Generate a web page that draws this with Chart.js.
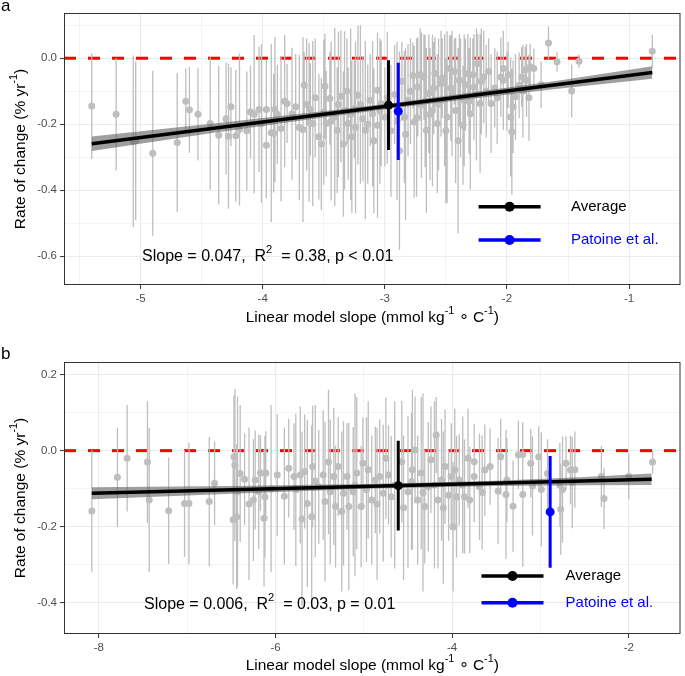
<!DOCTYPE html>
<html>
<head>
<meta charset="utf-8">
<script src="https://cdn.jsdelivr.net/npm/chart.js@4.4.1/dist/chart.umd.min.js"></script>
<style>
    html, body { margin: 0; padding: 0; background: #fff; }
    .panel { position: absolute; left: 0; width: 685px; height: 338px; }
    #panelA { top: 0; }
    #panelB { top: 338px; }
</style>
</head>
<body>
<div class="panel" id="panelA"><canvas id="chartA"></canvas></div>
<div class="panel" id="panelB"><canvas id="chartB"></canvas></div>
<script>
// ---- panel a : sites (slope, rate, half error bar) ----
const slopeA = [-5.40, -5.20, -5.06, -5.04, -4.90, -4.70, -4.63, -4.60, -4.53, -4.43,
    -4.36, -4.30, -4.28, -4.26, -4.22, -4.19, -4.13, -4.10, -4.07, -4.03,
    -4.01, -3.97, -3.97, -3.93, -3.91, -3.90, -3.88, -3.85, -3.82, -3.80,
    -3.76, -3.73, -3.70, -3.67, -3.66, -3.64, -3.62, -3.61, -3.59, -3.57,
    -3.54, -3.52, -3.50, -3.49, -3.48, -3.45, -3.44, -3.41, -3.39, -3.38,
    -3.36, -3.34, -3.33, -3.31, -3.30, -3.28, -3.27, -3.25, -3.24, -3.22,
    -3.20, -3.18, -3.16, -3.14, -3.12, -3.10, -3.09, -3.06, -3.06, -3.04,
    -3.03, -3.00, -2.98, -2.95, -2.92, -2.90, -2.88, -2.86, -2.84, -2.83,
    -2.81, -2.79, -2.77, -2.76, -2.74, -2.73, -2.71, -2.70, -2.68, -2.67,
    -2.66, -2.64, -2.63, -2.61, -2.60, -2.59, -2.57, -2.56, -2.54, -2.53,
    -2.51, -2.50, -2.49, -2.47, -2.46, -2.45, -2.43, -2.42, -2.40, -2.39,
    -2.38, -2.36, -2.35, -2.34, -2.32, -2.31, -2.30, -2.28, -2.27, -2.25,
    -2.24, -2.22, -2.21, -2.19, -2.17, -2.15, -2.13, -2.10, -2.08, -2.05,
    -2.03, -2.03, -2.00, -1.99, -1.97, -1.96, -1.95, -1.93, -1.90, -1.88,
    -1.87, -1.85, -1.84, -1.82, -1.81, -1.78, -1.72, -1.66, -1.59, -1.47,
    -1.41, -0.81];
const rateA = [-0.145, -0.170, -0.252, -0.250, -0.288, -0.255, -0.130, -0.156, -0.170, -0.198,
    -0.233, -0.183, -0.236, -0.147, -0.235, -0.216, -0.220, -0.163, -0.170, -0.155,
    -0.198, -0.155, -0.264, -0.226, -0.227, -0.155, -0.170, -0.213, -0.130, -0.137,
    -0.168, -0.147, -0.210, -0.216, -0.082, -0.140, -0.195, -0.155, -0.198, -0.120,
    -0.238, -0.260, -0.163, -0.085, -0.198, -0.122, -0.190, -0.178, -0.218, -0.140,
    -0.115, -0.260, -0.158, -0.100, -0.198, -0.170, -0.238, -0.152, -0.210, -0.112,
    -0.140, -0.183, -0.218, -0.200, -0.127, -0.168, -0.250, -0.097, -0.203, -0.160,
    -0.137, -0.178, -0.120, -0.220, -0.110, -0.190, -0.280, -0.070, -0.178, -0.230,
    -0.127, -0.100, -0.052, -0.193, -0.180, -0.087, -0.050, -0.142, -0.057, -0.130,
    -0.218, -0.107, -0.170, -0.158, -0.090, -0.046, -0.198, -0.140, -0.077, -0.060,
    -0.127, -0.220, -0.178, -0.031, -0.090, -0.107, -0.040, -0.158, -0.250, -0.067,
    -0.120, -0.203, -0.127, -0.080, -0.046, -0.130, -0.168, -0.050, -0.087, -0.110,
    -0.016, -0.137, -0.070, -0.057, -0.100, -0.040, -0.137, -0.090, -0.120, -0.057,
    -0.031, -0.067, -0.100, -0.050, -0.178, -0.223, -0.147, -0.117, -0.082, -0.057,
    -0.100, -0.036, -0.067, -0.120, -0.026, -0.031, -0.080, 0.046, -0.011, -0.099,
    -0.009, 0.021];
const errA = [0.16, 0.17, 0.26, 0.24, 0.25, 0.21, 0.10, 0.13, 0.14, 0.20,
    0.21, 0.17, 0.22, 0.12, 0.20, 0.23, 0.18, 0.14, 0.24, 0.19,
    0.24, 0.15, 0.16, 0.27, 0.18, 0.22, 0.15, 0.22, 0.20, 0.12,
    0.20, 0.16, 0.22, 0.28, 0.10, 0.20, 0.24, 0.14, 0.25, 0.18,
    0.19, 0.20, 0.22, 0.16, 0.16, 0.14, 0.24, 0.27, 0.19, 0.22,
    0.20, 0.22, 0.24, 0.16, 0.17, 0.26, 0.23, 0.15, 0.26, 0.21,
    0.24, 0.19, 0.27, 0.18, 0.14, 0.22, 0.22, 0.12, 0.28, 0.22,
    0.19, 0.15, 0.20, 0.20, 0.15, 0.24, 0.30, 0.12, 0.20, 0.26,
    0.17, 0.16, 0.10, 0.23, 0.24, 0.15, 0.14, 0.22, 0.13, 0.20,
    0.25, 0.18, 0.20, 0.23, 0.14, 0.11, 0.21, 0.20, 0.16, 0.12,
    0.20, 0.22, 0.26, 0.10, 0.16, 0.19, 0.10, 0.22, 0.28, 0.14,
    0.18, 0.18, 0.20, 0.14, 0.12, 0.16, 0.23, 0.11, 0.16, 0.20,
    0.09, 0.21, 0.16, 0.14, 0.14, 0.10, 0.15, 0.12, 0.14, 0.12,
    0.09, 0.15, 0.12, 0.10, 0.18, 0.19, 0.14, 0.13, 0.10, 0.09,
    0.14, 0.07, 0.11, 0.13, 0.07, 0.06, 0.07, 0.05, 0.03, 0.08,
    0.02, 0.05];

const fitXA = [-5.40, -0.81];
const fitYA = [-0.259, -0.043];
const bandXA = [-5.40, -4.40, -3.40, -2.90, -2.40, -1.60, -0.81];
const bandLoA = [-0.281, -0.226, -0.174, -0.150, -0.127, -0.093, -0.062];
const bandHiA = [-0.237, -0.198, -0.156, -0.134, -0.109, -0.069, -0.024];

const avgA = { x: [-2.97], y: [-0.142], err: [0.136] };
const patoineA = { x: [-2.89], y: [-0.161], err: [0.147] };

const xMajorA = [-5, -4, -3, -2, -1];
const xMinorA = [-5.5, -4.5, -3.5, -2.5, -1.5];
const yMajorA = [-0.6, -0.4, -0.2, 0.0];
const yMinorA = [-0.5, -0.3, -0.1, 0.1];

// ---- panel b ----
const slopeB = [-8.08, -7.79, -7.68, -7.45, -7.43, -7.21, -7.03, -6.98, -6.75, -6.69,
    -6.48, -6.47, -6.46, -6.44, -6.43, -6.35, -6.25, -6.23, -6.19, -6.17,
    -6.13, -6.12, -6.11, -5.98, -5.85, -5.79, -5.77, -5.72, -5.67, -5.64,
    -5.59, -5.58, -5.51, -5.46, -5.44, -5.38, -5.34, -5.32, -5.29, -5.23,
    -5.19, -5.17, -5.12, -5.08, -5.03, -5.01, -4.97, -4.91, -4.87, -4.82,
    -4.78, -4.72, -4.69, -4.57, -4.50, -4.46, -4.42, -4.39, -4.35, -4.31,
    -4.27, -4.24, -4.18, -4.16, -4.12, -4.08, -4.04, -4.01, -3.99, -3.95,
    -3.92, -3.86, -3.82, -3.75, -3.75, -3.69, -3.63, -3.57, -3.48, -3.45,
    -3.39, -3.38, -3.31, -3.25, -3.20, -3.20, -3.11, -3.09, -3.02, -2.99,
    -2.92, -2.78, -2.77, -2.75, -2.71, -2.66, -2.64, -2.61, -2.31, -2.28,
    -2.00, -1.73,
    -6.40, -6.30, -6.05, -5.90, -5.70, -5.55, -5.40, -5.25, -5.10, -4.95,
    -4.85, -4.75, -4.65, -4.55, -4.45, -4.33, -4.20, -4.10, -3.97, -3.88,
    -3.80, -3.66];
const rateB = [-0.159, -0.070, -0.020, -0.030, -0.130, -0.158, -0.139, -0.139, -0.134, -0.086,
    -0.182, -0.016, -0.038, -0.174, -0.108, -0.075, -0.130, -0.077, -0.108, -0.059,
    -0.178, -0.121, -0.059, -0.064, -0.046, -0.068, -0.103, -0.064, -0.055, -0.139,
    -0.174, -0.042, -0.095, -0.064, -0.134, -0.108, -0.068, -0.147, -0.042, -0.112,
    -0.068, -0.147, -0.108, -0.059, -0.147, -0.033, -0.103, -0.130, -0.077, -0.068,
    -0.112, -0.064, -0.121, -0.029, -0.108, -0.081, 0.002, -0.130, -0.059, -0.147,
    -0.095, -0.024, 0.041, -0.130, -0.077, -0.042, -0.117, -0.068, -0.200, -0.121,
    -0.077, -0.121, -0.020, -0.068, -0.029, -0.095, -0.051, -0.042, -0.106, -0.016,
    -0.115, -0.077, -0.146, -0.011, -0.115, -0.010, -0.033, -0.093, -0.016, -0.102,
    -0.060, -0.090, -0.154, -0.102, -0.033, -0.051, -0.084, -0.050, -0.068, -0.126,
    -0.068, -0.030,
    -0.060, -0.140, -0.100, -0.120, -0.180, -0.080, -0.030, -0.160, -0.090, -0.050,
    -0.140, -0.020, -0.090, -0.150, -0.050, -0.110, -0.090, -0.150, -0.050, -0.090,
    -0.130, -0.110];
const errB = [0.16, 0.13, 0.14, 0.16, 0.19, 0.14, 0.14, 0.16, 0.17, 0.11,
    0.17, 0.16, 0.20, 0.19, 0.25, 0.12, 0.16, 0.13, 0.15, 0.10,
    0.18, 0.16, 0.11, 0.16, 0.13, 0.14, 0.20, 0.18, 0.15, 0.22,
    0.24, 0.16, 0.15, 0.17, 0.21, 0.19, 0.18, 0.16, 0.13, 0.19,
    0.14, 0.22, 0.17, 0.20, 0.16, 0.12, 0.19, 0.17, 0.14, 0.15,
    0.18, 0.13, 0.16, 0.16, 0.20, 0.18, 0.14, 0.17, 0.20, 0.15,
    0.17, 0.14, 0.10, 0.18, 0.16, 0.15, 0.12, 0.14, 0.17, 0.16,
    0.12, 0.15, 0.13, 0.12, 0.10, 0.14, 0.12, 0.10, 0.14, 0.10,
    0.17, 0.11, 0.12, 0.09, 0.19, 0.08, 0.09, 0.13, 0.08, 0.15,
    0.09, 0.11, 0.12, 0.14, 0.07, 0.09, 0.12, 0.10, 0.08, 0.08,
    0.06, 0.03,
    0.18, 0.20, 0.22, 0.18, 0.23, 0.20, 0.19, 0.21, 0.24, 0.18,
    0.20, 0.16, 0.22, 0.19, 0.21, 0.26, 0.22, 0.20, 0.16, 0.18,
    0.14, 0.15];

const fitXB = [-8.08, -1.74];
const fitYB = [-0.112, -0.075];
const bandXB = [-8.08, -6.50, -5.00, -4.60, -3.50, -2.50, -1.74];
const bandLoB = [-0.128, -0.113, -0.100, -0.098, -0.093, -0.091, -0.090];
const bandHiB = [-0.096, -0.093, -0.088, -0.086, -0.079, -0.069, -0.060];

const avgB = { x: [-4.61], y: [-0.092], err: [0.118] };
const patoineB = { x: [-2.89], y: [-0.161], err: [0.147] };

const xMajorB = [-8, -6, -4, -2];
const xMinorB = [-7, -5, -3];
const yMajorB = [-0.4, -0.2, 0.0, 0.2];
const yMinorB = [-0.3, -0.1, 0.1];

const legendLabels = ['Average', 'Patoine et al.'];
const FONT = '"Liberation Sans", Arial, sans-serif';
const GREY = '#bebebe';

function points(xs, ys) {
    return xs.map((x, i) => ({ x: x, y: ys[i] }));
}

// vertical segments separated by gaps, so one line dataset draws every error bar
function errorSegments(xs, ys, es) {
    const out = [];
    xs.forEach((x, i) => {
        out.push({ x: x, y: ys[i] - es[i] }, { x: x, y: ys[i] + es[i] }, { x: x, y: null });
    });
    return out;
}

function drawRich(ctx, parts, x, y, size, align, color) {
    const base = size + 'px ' + FONT;
    const small = (size * 0.7).toFixed(1) + 'px ' + FONT;
    let w = 0;
    parts.forEach(p => { ctx.font = p[1] ? small : base; w += ctx.measureText(p[0]).width; });
    let cx = align === 'center' ? x - w / 2 : x;
    ctx.textAlign = 'left';
    ctx.textBaseline = 'middle';
    ctx.fillStyle = color;
    parts.forEach(p => {
        ctx.font = p[1] ? small : base;
        ctx.fillText(p[0], cx, p[1] ? y - size * 0.42 : y);
        cx += ctx.measureText(p[0]).width;
    });
}

const decorPlugin = {
    id: 'decor',
    afterDraw(chart, args, o) {
        const ctx = chart.ctx;
        const a = chart.chartArea;
        ctx.save();
        ctx.strokeStyle = '#333333';
        ctx.lineWidth = 1;
        ctx.strokeRect(a.left + 0.5, a.top + 0.5, a.right - a.left - 1, a.bottom - a.top - 1);

        ctx.fillStyle = '#000';
        ctx.font = '17px ' + FONT;
        ctx.textAlign = 'left';
        ctx.textBaseline = 'alphabetic';
        ctx.fillText(o.label, 1, o.labelY);

        drawRich(ctx, [['Linear model slope (mmol kg', 0], ['-1', 1], [' \u2218 C', 0], ['-1', 1], [')', 0]],
            (a.left + a.right) / 2, o.xTitleY, 15.5, 'center', '#000');
        ctx.save();
        ctx.translate(21, (a.top + a.bottom) / 2);
        ctx.rotate(-Math.PI / 2);
        drawRich(ctx, [['Rate of change (% yr', 0], ['-1', 1], [')', 0]], 0, 0, 15.5, 'center', '#000');
        ctx.restore();

        drawRich(ctx, o.annot, o.annotX, o.annotY, 16, 'left', '#000');

        const colors = ['#000000', '#0000ff'];
        o.legendY.forEach((ly, i) => {
            ctx.strokeStyle = colors[i];
            ctx.lineWidth = 3.5;
            ctx.beginPath();
            ctx.moveTo(o.legendX - 31, ly);
            ctx.lineTo(o.legendX + 31, ly);
            ctx.stroke();
            ctx.fillStyle = colors[i];
            ctx.beginPath();
            ctx.arc(o.legendX, ly, 5, 0, Math.PI * 2);
            ctx.fill();
            drawRich(ctx, [[legendLabels[i], 0]], o.legendTextX, ly, 15, 'left', colors[i]);
        });
        ctx.restore();
    }
};

function axis(min, max, major, minor, fmt, extra) {
    const all = major.concat(minor).sort((p, q) => p - q);
    return Object.assign({
        type: 'linear',
        min: min,
        max: max,
        afterBuildTicks: s => { s.ticks = all.map(v => ({ value: v })); },
        ticks: {
            autoSkip: false,
            maxRotation: 0,
            color: '#4d4d4d',
            font: { family: FONT, size: 11.5 },
            callback: v => major.includes(v) ? fmt(v) : ''
        },
        grid: {
            color: '#ebebeb',
            lineWidth: c => major.includes(c.tick.value) ? 1.1 : 0.55,
            tickColor: c => major.includes(c.tick.value) ? '#333333' : 'rgba(0,0,0,0)',
            tickWidth: 1,
            tickLength: 4
        },
        border: { display: false }
    }, extra);
}

function makePanel(id, p) {
    const datasets = [
        { type: 'line', data: [{ x: p.xRange[0], y: 0 }, { x: p.xRange[1], y: 0 }],
          borderColor: '#ff0000', borderWidth: 3, borderDash: [12, 12], pointRadius: 0, order: 9 },
        { type: 'line', data: errorSegments(p.slope, p.rate, p.err), spanGaps: false,
          borderColor: GREY, borderWidth: 1.3, pointRadius: 0, order: 8 },
        { type: 'scatter', data: points(p.slope, p.rate), backgroundColor: GREY,
          borderWidth: 0, pointRadius: 3.5, order: 7 },
        { type: 'line', data: points(p.bandX, p.bandLo), borderWidth: 0, pointRadius: 0, order: 6 },
        { type: 'line', data: points(p.bandX, p.bandHi), borderWidth: 0, pointRadius: 0, order: 5,
          fill: '-1', backgroundColor: 'rgba(95,95,95,0.6)' },
        { type: 'line', data: points(p.fitX, p.fitY), borderColor: '#000', borderWidth: 3.5,
          pointRadius: 0, order: 4 },
        { type: 'line', data: errorSegments(p.avg.x, p.avg.y, p.avg.err), borderColor: '#000',
          borderWidth: 3, pointRadius: 0, order: 3 },
        { type: 'scatter', data: points(p.avg.x, p.avg.y), backgroundColor: '#000',
          borderWidth: 0, pointRadius: 4.5, order: 2 },
        { type: 'line', data: errorSegments(p.pat.x, p.pat.y, p.pat.err), borderColor: '#0000ff',
          borderWidth: 3, pointRadius: 0, order: 1 },
        { type: 'scatter', data: points(p.pat.x, p.pat.y), backgroundColor: '#0000ff',
          borderWidth: 0, pointRadius: 4.5, order: 0 }
    ];

    return new Chart(document.getElementById(id), {
        type: 'scatter',
        data: { datasets: datasets },
        options: {
            responsive: true,
            maintainAspectRatio: false,
            animation: false,
            events: [],
            layout: { padding: { top: p.padTop, right: 1, left: 0, bottom: 0 } },
            scales: {
                x: axis(p.xRange[0], p.xRange[1], p.xMajor, p.xMinor, v => String(v),
                    { afterFit: s => { s.height = p.xAxisH; } }),
                y: axis(p.yRange[0], p.yRange[1], p.yMajor, p.yMinor, v => v.toFixed(1),
                    { afterFit: s => { s.width = 64; } })
            },
            plugins: {
                legend: { display: false },
                tooltip: { enabled: false },
                decor: p.decor
            }
        },
        plugins: [decorPlugin]
    });
}

makePanel('chartA', {
    slope: slopeA, rate: rateA, err: errA,
    fitX: fitXA, fitY: fitYA, bandX: bandXA, bandLo: bandLoA, bandHi: bandHiA,
    avg: avgA, pat: patoineA,
    xRange: [-5.627, -0.579], yRange: [-0.687, 0.137],
    xMajor: xMajorA, xMinor: xMinorA, yMajor: yMajorA, yMinor: yMinorA,
    padTop: 13, xAxisH: 53,
    decor: {
        label: 'a', labelY: 11, xTitleY: 318,
        annot: [['Slope = 0.047,  R', 0], ['2', 1], ['  = 0.38, p < 0.01', 0]],
        annotX: 142, annotY: 257,
        legendX: 509.6, legendY: [206.7, 240], legendTextX: 571
    }
});

makePanel('chartB', {
    slope: slopeB, rate: rateB, err: errB,
    fitX: fitXB, fitY: fitYB, bandX: bandXB, bandLo: bandLoB, bandHi: bandHiB,
    avg: avgB, pat: patoineB,
    xRange: [-8.395, -1.414], yRange: [-0.482, 0.233],
    xMajor: xMajorB, xMinor: xMinorB, yMajor: yMajorB, yMinor: yMinorB,
    padTop: 24, xAxisH: 42,
    decor: {
        label: 'b', labelY: 21, xTitleY: 328,
        annot: [['Slope = 0.006,  R', 0], ['2', 1], ['  = 0.03, p = 0.01', 0]],
        annotX: 144, annotY: 266.3,
        legendX: 512.5, legendY: [238, 264.7], legendTextX: 565.6
    }
});
</script>
</body>
</html>
